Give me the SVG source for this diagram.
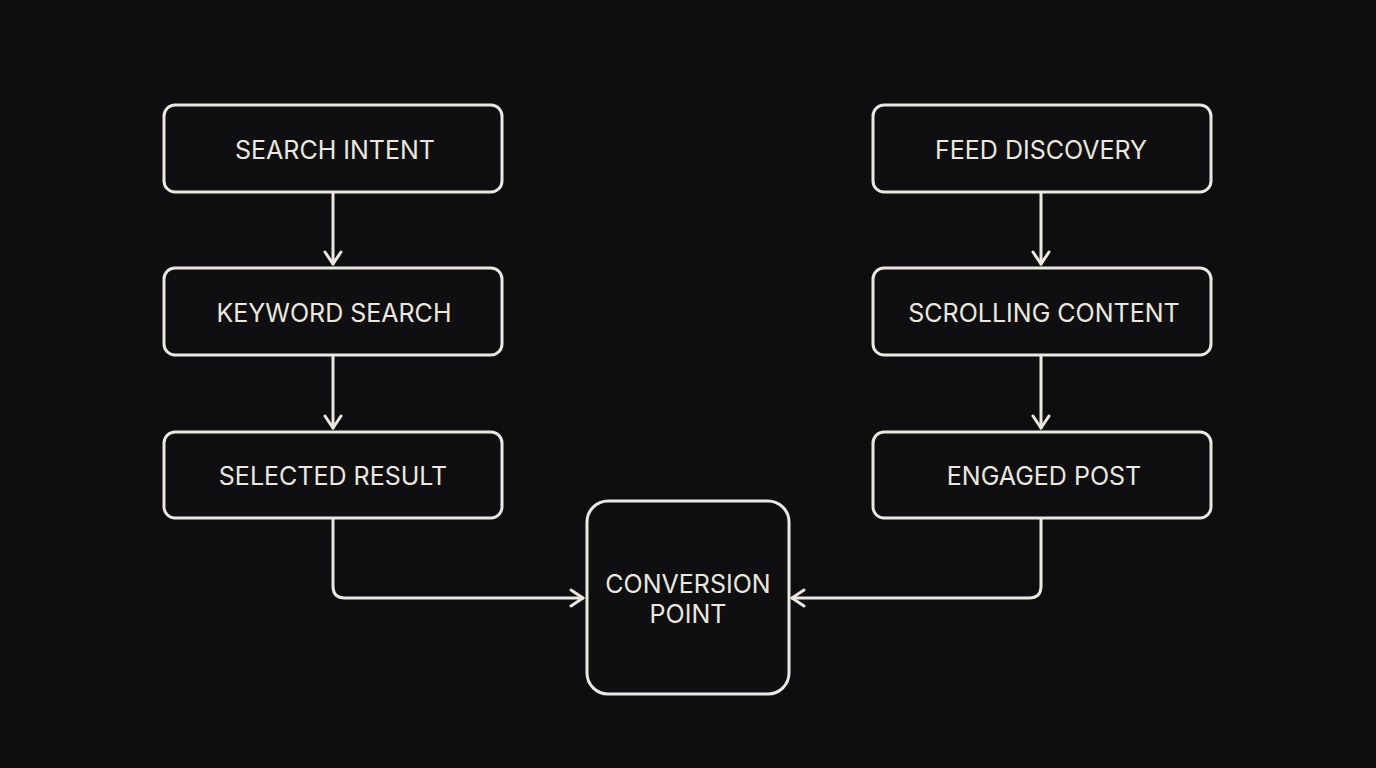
<svg xmlns="http://www.w3.org/2000/svg" width="1376" height="768" viewBox="0 0 1376 768">
<defs>
<style>
.box{fill:#0f0f11;stroke:#ebe8df;stroke-width:3}
.lbl{font-family:Inter,"Noto Sans",sans-serif;font-size:25px;fill:#ebe8df;text-anchor:middle;dominant-baseline:central}
.con{fill:none;stroke:#ebe8df;stroke-width:3;stroke-linecap:round;stroke-linejoin:round}
</style>
<marker id="arr" viewBox="0 0 20 20" refX="16" refY="10" markerWidth="20" markerHeight="20" markerUnits="userSpaceOnUse" orient="auto">
<path d="M4,2 L16,10 L4,18" fill="none" stroke="#ebe8df" stroke-width="3" stroke-linecap="round" stroke-linejoin="round"/>
</marker>
</defs>
<rect width="1376" height="768" fill="#0e0e10"/>
<g id="connectors">
<path class="con" d="M333,193 V264" marker-end="url(#arr)"/>
<path class="con" d="M333,356 V428" marker-end="url(#arr)"/>
<path class="con" d="M1041,193 V264" marker-end="url(#arr)"/>
<path class="con" d="M1041,356 V428" marker-end="url(#arr)"/>
<path class="con" d="M333,519 V586 Q333,598 345,598 H583" marker-end="url(#arr)"/>
<path class="con" d="M1041,519 V586 Q1041,598 1029,598 H792" marker-end="url(#arr)"/>
</g>
<g id="search-intent"><rect class="box" x="164" y="105" width="338" height="87" rx="11"/><text class="lbl" x="335" y="150">SEARCH INTENT</text></g>
<g id="keyword-search"><rect class="box" x="164" y="268" width="338" height="87" rx="11"/><text class="lbl" x="334" y="313">KEYWORD SEARCH</text></g>
<g id="selected-result"><rect class="box" x="164" y="432" width="338" height="86" rx="11"/><text class="lbl" x="333" y="476">SELECTED RESULT</text></g>
<g id="feed-discovery"><rect class="box" x="873" y="105" width="338" height="87" rx="11"/><text class="lbl" x="1041" y="150">FEED DISCOVERY</text></g>
<g id="scrolling-content"><rect class="box" x="873" y="268" width="338" height="87" rx="11"/><text class="lbl" x="1044" y="313">SCROLLING CONTENT</text></g>
<g id="engaged-post"><rect class="box" x="873" y="432" width="338" height="86" rx="11"/><text class="lbl" x="1044" y="476">ENGAGED POST</text></g>
<g id="conversion-point"><rect class="box" x="587" y="501" width="202" height="193" rx="21"/><text class="lbl" x="688" y="584">CONVERSION</text><text class="lbl" x="688" y="614">POINT</text></g>
</svg>
